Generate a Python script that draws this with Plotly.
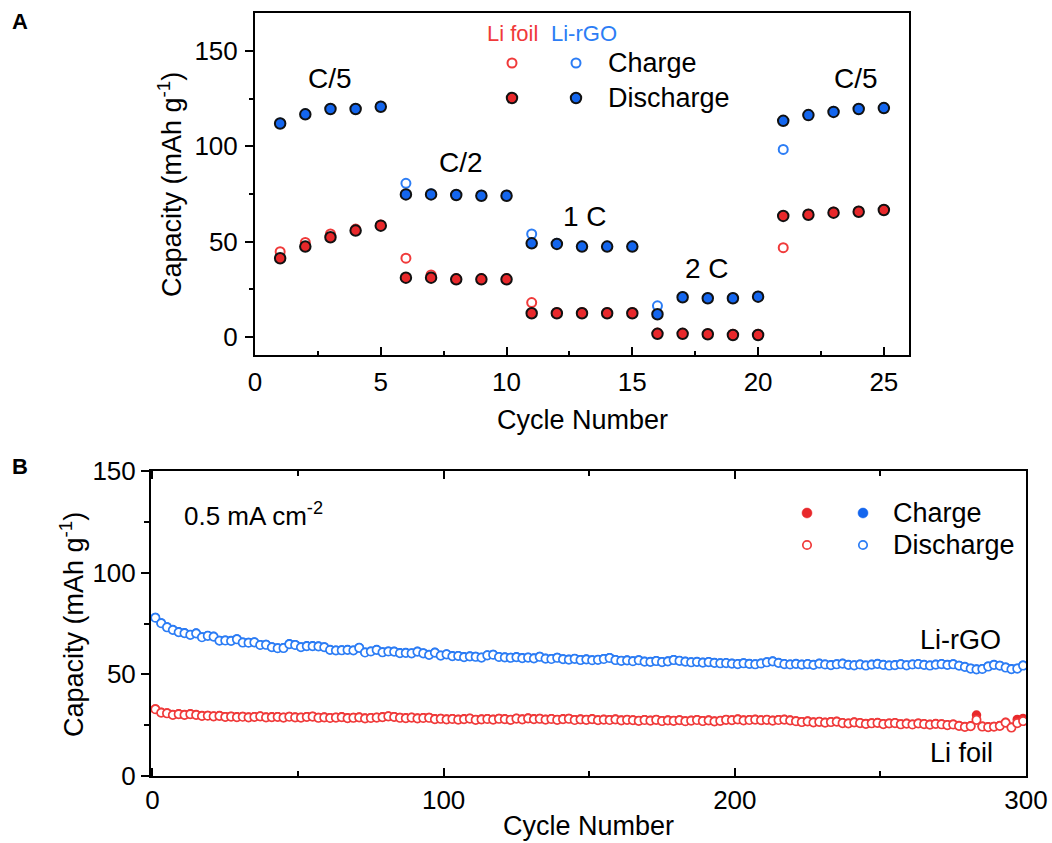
import plotly.graph_objects as go

# ---------------- Panel A: rate capability ----------------
cycles_a = list(range(1, 26))
foil_charge_a = [44.7, 49.6, 54.0, 56.6, 58.7, 41.3, 32.5, 30.6, 30.6, 30.6,
                 18.0, 12.8, 12.8, 12.8, 12.8, 2.0, 1.9, 1.7, 1.4, 1.4,
                 46.8, 64.4, 65.5, 66.0, 66.9]
foil_discharge_a = [41.3, 47.4, 52.3, 55.8, 58.4, 31.1, 31.1, 30.2, 30.2, 30.2,
                    12.4, 12.4, 12.4, 12.4, 12.4, 1.6, 1.6, 1.4, 1.0, 1.0,
                    63.5, 64.1, 65.2, 65.7, 66.6]
rgo_charge_a = [112.3, 117.1, 119.9, 119.9, 121.1, 80.6, 75.1, 74.8, 74.4, 74.4,
                54.0, 49.1, 47.7, 47.7, 47.7, 16.3, 21.1, 20.6, 20.6, 21.4,
                98.4, 116.7, 118.4, 119.9, 120.4]
rgo_discharge_a = [112.0, 116.8, 119.6, 119.6, 120.8, 74.8, 74.8, 74.5, 74.1, 74.1,
                   49.1, 48.8, 47.4, 47.4, 47.4, 11.9, 20.8, 20.3, 20.3, 21.1,
                   113.4, 116.4, 118.1, 119.6, 120.1]
rate_labels = ["C/5", "C/2", "1 C", "2 C", "C/5"]

# ---------------- Panel B: long-term cycling ----------------
cycles_b = list(range(1, 300, 2))
rgo_discharge_b = [
    77.8, 75.1, 73.1, 71.8, 70.7, 70.2, 69.4, 70.1, 68.2, 68.9,
    68.5, 66.5, 66.6, 66.4, 67.2, 65.6, 65.5, 65.7, 64.4, 64.5,
    63.3, 62.8, 62.9, 64.8, 64.4, 63.3, 63.8, 63.8, 63.7, 63.3,
    62.0, 61.7, 61.8, 62.0, 61.7, 63.0, 60.7, 61.2, 62.0, 60.8,
    61.2, 61.1, 60.4, 60.5, 60.3, 61.1, 60.3, 59.5, 60.6,
    59.2, 59.8, 58.9, 59.0, 58.4, 58.8, 58.6, 58.2, 59.3, 59.6,
    58.5, 58.3, 58.1, 58.4, 57.9, 58.2, 57.8, 58.6, 57.7, 57.5,
    58.1, 57.4, 57.2, 57.6, 57.0, 57.3, 56.9, 57.1, 57.5, 58.0,
    57.0, 56.6, 56.8, 56.4, 56.9, 56.2, 56.1, 56.5, 56.0, 56.3,
    57.0, 56.6, 56.2, 55.9, 56.1, 55.7, 56.0, 55.6, 55.4,
    55.5, 55.2, 55.0, 55.4, 55.1, 54.9, 55.3, 55.9, 56.3, 55.6,
    55.0, 54.8, 55.1, 54.7, 55.0, 54.6, 55.2, 54.8, 54.5, 54.9,
    55.2, 54.6, 54.4, 54.8, 54.3, 54.7, 55.1, 54.6, 54.3, 54.5,
    54.9, 54.4, 54.8, 55.0, 54.6, 54.3, 54.7, 55.0, 54.6, 54.9,
    54.2, 53.6, 52.8, 52.4, 52.6, 53.8, 54.6, 54.2, 53.3, 52.5,
    52.8, 54.3,
]
rgo_charge_b = [
    78.0, 75.3, 73.3, 72.0, 70.9, 70.4, 69.6, 70.3, 68.4, 69.1,
    68.7, 66.7, 66.8, 66.6, 67.4, 65.8, 65.7, 65.9, 64.6, 64.7,
    63.5, 63.0, 63.1, 65.0, 64.6, 63.5, 64.0, 64.0, 63.9, 63.5,
    62.2, 61.9, 62.0, 62.2, 61.9, 63.2, 60.9, 61.4, 62.2, 61.0,
    61.4, 61.3, 60.6, 60.7, 60.5, 61.3, 60.5, 59.7, 60.8,
    59.4, 60.0, 59.1, 59.2, 58.6, 59.0, 58.8, 58.4, 59.5, 59.8,
    58.7, 58.5, 58.3, 58.6, 58.1, 58.4, 58.0, 58.8, 57.9, 57.7,
    58.3, 57.6, 57.4, 57.8, 57.2, 57.5, 57.1, 57.3, 57.7, 58.2,
    57.2, 56.8, 57.0, 56.6, 57.1, 56.4, 56.3, 56.7, 56.2, 56.5,
    57.2, 56.8, 56.4, 56.1, 56.3, 55.9, 56.2, 55.8, 55.6,
    55.7, 55.4, 55.2, 55.6, 55.3, 55.1, 55.5, 56.1, 56.5, 55.8,
    55.2, 55.0, 55.3, 54.9, 55.2, 54.8, 55.4, 55.0, 54.7, 55.1,
    55.4, 54.8, 54.6, 55.0, 54.5, 54.9, 55.3, 54.8, 54.5, 54.7,
    55.1, 54.6, 55.0, 55.2, 54.8, 54.5, 54.9, 55.2, 54.8, 55.1,
    54.4, 53.8, 53.0, 52.6, 52.8, 54.0, 54.8, 54.4, 53.5, 52.7,
    53.0, 54.5,
]
foil_discharge_b = [
    32.8, 31.1, 30.8, 30.0, 30.4, 30.0, 30.4, 30.0, 29.5, 29.6,
    29.3, 29.5, 29.0, 29.2, 28.9, 29.1, 28.8, 29.0, 29.3, 28.8,
    28.9, 29.0, 28.7, 29.1, 28.8, 28.7, 29.0, 29.2, 28.6, 28.8,
    28.5, 28.7, 28.9, 28.4, 28.6, 28.8, 28.3, 28.5, 28.7, 28.9,
    29.3, 29.0, 28.6, 28.4, 28.7, 28.3, 28.5, 28.6, 27.9,
    28.1, 27.8, 28.0, 27.7, 27.9, 28.2, 27.6, 27.8, 28.0, 27.7,
    28.1, 27.9, 27.6, 28.2, 27.8, 28.3, 27.9, 28.1, 27.7, 28.0,
    27.6, 27.9, 28.1, 27.5, 27.8, 27.6, 27.9, 27.4, 27.7, 27.5,
    27.8, 27.3, 27.6, 27.4, 27.1, 27.5, 27.2, 27.6, 27.0, 27.3,
    27.1, 27.4, 26.9, 27.2, 27.5, 27.0, 27.3, 26.8, 27.1,
    27.6, 27.4, 27.8, 27.3, 27.5, 27.7, 27.4, 27.6, 27.2, 27.5,
    27.7, 27.3, 26.9, 26.5, 26.8, 26.3, 26.6, 26.2, 26.5, 26.7,
    26.0, 25.8, 26.3, 26.0, 25.6, 25.9, 26.1, 25.5, 25.8, 26.0,
    25.4, 25.7, 25.3, 25.8, 25.5, 25.2, 25.6, 25.4, 25.0, 25.3,
    24.6, 24.1, 24.5, 27.6, 24.3, 24.0, 24.2, 24.6, 26.2, 23.8,
    26.0, 27.0,
]
foil_charge_b = [
    33.0, 31.3, 31.0, 30.2, 30.6, 30.2, 30.6, 30.2, 29.7, 29.8,
    29.5, 29.7, 29.2, 29.4, 29.1, 29.3, 29.0, 29.2, 29.5, 29.0,
    29.1, 29.2, 28.9, 29.3, 29.0, 28.9, 29.2, 29.4, 28.8, 29.0,
    28.7, 28.9, 29.1, 28.6, 28.8, 29.0, 28.5, 28.7, 28.9, 29.1,
    29.5, 29.2, 28.8, 28.6, 28.9, 28.5, 28.7, 28.8, 28.1,
    28.3, 28.0, 28.2, 27.9, 28.1, 28.4, 27.8, 28.0, 28.2, 27.9,
    28.3, 28.1, 27.8, 28.4, 28.0, 28.5, 28.1, 28.3, 27.9, 28.2,
    27.8, 28.1, 28.3, 27.7, 28.0, 27.8, 28.1, 27.6, 27.9, 27.7,
    28.0, 27.5, 27.8, 27.6, 27.3, 27.7, 27.4, 27.8, 27.2, 27.5,
    27.3, 27.6, 27.1, 27.4, 27.7, 27.2, 27.5, 27.0, 27.3,
    27.8, 27.6, 28.0, 27.5, 27.7, 27.9, 27.6, 27.8, 27.4, 27.7,
    27.9, 27.5, 27.1, 26.7, 27.0, 26.5, 26.8, 26.4, 26.7, 26.9,
    26.2, 26.0, 26.5, 26.2, 25.8, 26.1, 26.3, 25.7, 26.0, 26.2,
    25.6, 25.9, 25.5, 26.0, 25.7, 25.4, 25.8, 25.6, 25.2, 25.5,
    24.8, 24.3, 24.7, 30.0, 24.5, 24.2, 24.4, 24.8, 26.4, 24.0,
    27.8, 28.3,
]

# ---------------- styling ----------------
W, H = 1052, 843
FONT = "Arial, Liberation Sans, Helvetica, sans-serif"
RED = "#E8282B"
BLUE = "#1466EE"
RED_LT = "#F03A3A"
BLUE_LT = "#2C7DF5"
BLACK = "#111111"


def paper(x, y):
    """pixel position in the page -> paper coordinates"""
    return x / W, 1 - y / H


fig = go.Figure()

# Panel A: charge drawn first (white-filled rings), discharge on top (filled, black rim)
fig.add_trace(go.Scatter(x=cycles_a, y=foil_charge_a, mode="markers", xaxis="x", yaxis="y",
                         marker=dict(symbol="circle", size=9, color="white",
                                     line=dict(color=RED_LT, width=2))))
fig.add_trace(go.Scatter(x=cycles_a, y=rgo_charge_a, mode="markers", xaxis="x", yaxis="y",
                         marker=dict(symbol="circle", size=9, color="white",
                                     line=dict(color=BLUE_LT, width=2))))
fig.add_trace(go.Scatter(x=cycles_a, y=foil_discharge_a, mode="markers", xaxis="x", yaxis="y",
                         marker=dict(symbol="circle", size=10.5, color=RED,
                                     line=dict(color=BLACK, width=2))))
fig.add_trace(go.Scatter(x=cycles_a, y=rgo_discharge_a, mode="markers", xaxis="x", yaxis="y",
                         marker=dict(symbol="circle", size=10.5, color=BLUE,
                                     line=dict(color=BLACK, width=2))))

# Panel B: filled charge dots under white-filled discharge rings
fig.add_trace(go.Scatter(x=cycles_b, y=foil_charge_b, mode="markers", xaxis="x2", yaxis="y2",
                         marker=dict(symbol="circle", size=9.5, color=RED, line=dict(width=0))))
fig.add_trace(go.Scatter(x=cycles_b, y=rgo_charge_b, mode="markers", xaxis="x2", yaxis="y2",
                         marker=dict(symbol="circle", size=9.5, color=BLUE, line=dict(width=0))))
fig.add_trace(go.Scatter(x=cycles_b, y=foil_discharge_b, mode="markers", xaxis="x2", yaxis="y2",
                         marker=dict(symbol="circle", size=8.3, color="white",
                                     line=dict(color=RED_LT, width=1.7))))
fig.add_trace(go.Scatter(x=cycles_b, y=rgo_discharge_b, mode="markers", xaxis="x2", yaxis="y2",
                         marker=dict(symbol="circle", size=8.3, color="white",
                                     line=dict(color=BLUE_LT, width=1.7))))

tick_font = dict(family=FONT, size=26, color="black")
axis_common = dict(showgrid=False, zeroline=False, showline=True, linecolor="black",
                   linewidth=2, tickcolor="black", tickwidth=2, tickfont=tick_font,
                   automargin=False)

fig.update_layout(
    width=W, height=H,
    margin=dict(l=0, r=0, t=0, b=0, autoexpand=False),
    paper_bgcolor="white", plot_bgcolor="white",
    showlegend=False,
    font=dict(family=FONT, color="black"),
    xaxis=dict(domain=[255 / W, 909 / W], range=[0, 26], anchor="y",
               tickvals=[0, 5, 10, 15, 20, 25], ticks="inside", ticklen=8,
               minor=dict(dtick=2.5, tick0=0, ticks="inside", ticklen=4,
                          tickwidth=2, tickcolor="black"),
               mirror=True, ticklabelstandoff=3, **axis_common),
    yaxis=dict(domain=[1 - 355 / H, 1 - 13 / H], range=[-9.5, 170], anchor="x",
               tickvals=[0, 50, 100, 150], ticks="outside", ticklen=8,
               minor=dict(dtick=25, tick0=0, ticks="outside", ticklen=4,
                          tickwidth=2, tickcolor="black"),
               mirror=True, ticklabelstandoff=2, **axis_common),
    xaxis2=dict(domain=[151 / W, 1026 / W], range=[-0.5, 300], anchor="y2",
                tickvals=[0, 100, 200, 300], ticks="inside", ticklen=8,
                minor=dict(dtick=50, tick0=0, ticks="inside", ticklen=5,
                           tickwidth=2, tickcolor="black"),
                mirror="ticks", ticklabelstandoff=0, **axis_common),
    yaxis2=dict(domain=[1 - 776 / H, 1 - 471 / H], range=[0, 150], anchor="x2",
                tickvals=[0, 50, 100, 150], ticks="outside", ticklen=8,
                minor=dict(dtick=25, tick0=0, ticks="outside", ticklen=5,
                           tickwidth=2, tickcolor="black"),
                mirror=True, ticklabelstandoff=0, **axis_common),
)

annotations = []
shapes = []


def text(x, y, s, size=27, color="black", anchor="center", angle=0, bold=False):
    px, py = paper(x, y)
    annotations.append(dict(
        x=px, y=py, xref="paper", yref="paper", text=f"<b>{s}</b>" if bold else s,
        showarrow=False, xanchor=anchor, yanchor="middle", textangle=angle,
        font=dict(family=FONT, size=size, color=color)))


def dot(x, y, r, fill, edge, width):
    px, py = paper(x, y)
    shapes.append(dict(
        type="circle", xref="paper", yref="paper", xsizemode="pixel", ysizemode="pixel",
        xanchor=px, yanchor=py, x0=-r, x1=r, y0=-r, y1=r,
        fillcolor=fill, line=dict(color=edge, width=width)))


# panel letters
text(20, 21, "A", size=22, bold=True)
text(20, 466, "B", size=22, bold=True)

# axis titles
text(582, 420, "Cycle Number", size=27)
text(170, 185, "Capacity (mAh g<sup>-1</sup>)", size=27, angle=-90)
text(588, 826, "Cycle Number", size=27)
text(72, 625, "Capacity (mAh g<sup>-1</sup>)", size=27, angle=-90)

# rate labels (panel A)
for (x, y), s in zip([(330, 78), (461, 162), (585, 217), (707, 268), (856, 78)], rate_labels):
    text(x, y, s, size=28)

# legend panel A
text(512, 34, "Li foil", size=22, color=RED_LT)
text(584, 34, "Li-rGO", size=22, color=BLUE_LT)
dot(512, 63, 4.5, "white", RED_LT, 2)
dot(576, 63, 4.5, "white", BLUE_LT, 2)
dot(512, 98, 5.2, RED, BLACK, 2)
dot(576, 98, 5.2, BLUE, BLACK, 2)
text(606, 63, "Charge", size=27, anchor="left")
text(606, 98, "Discharge", size=27, anchor="left")

# legend panel B
dot(807, 513, 5, RED, RED, 0.5)
dot(863, 513, 5, BLUE, BLUE, 0.5)
dot(807, 545, 4.2, "white", RED_LT, 1.7)
dot(863, 545, 4.2, "white", BLUE_LT, 1.7)
text(891, 513, "Charge", size=27, anchor="left")
text(891, 545, "Discharge", size=27, anchor="left")

# panel B labels
text(182, 514, "0.5 mA cm<sup>-2</sup>", size=26, anchor="left")
text(960, 640, "Li-rGO", size=27)
text(961, 753, "Li foil", size=27)

fig.update_layout(annotations=annotations, shapes=shapes)
fig.write_html("out.html")
